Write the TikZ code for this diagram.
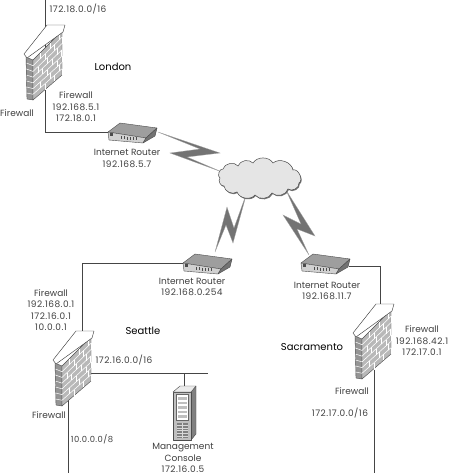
\documentclass[tikz,border=0pt]{standalone}
\usepackage{fontspec}
\setmainfont{Poppins}
\newfontfamily\numf[LetterSpace=5]{Poppins}
\usetikzlibrary{calc}
\definecolor{linec}{gray}{0.27}
\definecolor{txt}{gray}{0.25}
\tikzset{
  x=1pt,y=-1pt,
  wire/.style={draw=linec,line width=0.9pt},
  bolt/.style={fill=black!55,draw=black!35,line width=0.25pt,line join=miter},
  lbl/.style={inner sep=0pt,font=\fontsize{9}{11.5}\selectfont,text=txt},
  site/.style={inner sep=0pt,font=\fontsize{10}{12}\selectfont,text=black},
  brick/.style={draw=white,line width=0.55pt},
  edge/.style={draw=black!70,line width=0.4pt,line join=round},
}
\newcommand{\firewallpic}[3]{% name, dx, dy
  \begin{scope}[shift={(#2,#3)}]
    \coordinate (#1) at (45,60);
    \path[fill=black!42,edge] (26,57) -- (33,60) -- (33,100) -- (27,99) -- cycle;
    \path[fill=black!28,edge] (33,60) -- (62,31) -- (62,75) -- (33,100) -- cycle;
    \foreach \v in {0.143,0.286,0.429,0.571,0.714,0.857}{
      \draw[brick] (33,60+40*\v) -- (62,31+44*\v);
      \draw[draw=white,line width=0.5pt] (26.5,57+42*\v) -- (33,60+40*\v);
    }
    \foreach \i/\a in {0/0.25,1/0.42,2/0.17,3/0.33,4/0.5,5/0.25,6/0.42}{
      \foreach \k in {0,1,2}{
        \pgfmathsetmacro{\u}{\a+\k*0.33}
        \pgfmathsetmacro{\ua}{min(\u,1)}
        \pgfmathsetmacro{\xx}{33+29*\ua}
        \pgfmathsetmacro{\ya}{60-29*\ua+(40+4*\ua)*\i*0.143}
        \pgfmathsetmacro{\yb}{\ya+(40+4*\ua)*0.143}
        \draw[brick] (\xx,\ya) -- (\xx,\yb);
      }
    }
    \path[fill=white,draw=black!75,line width=0.45pt,line join=round] (24,54) -- (47,25) -- (65,25) -- (63,32) -- (27,58) -- cycle;
  \end{scope}
}
\newcommand{\routerpic}[3]{% name, dx, dy
  \begin{scope}[shift={(#2,#3)}]
    \coordinate (#1) at (132,132);
    \path[fill=black!38,edge] (108,132) -- (120,123) -- (157,128) -- (146,138) -- cycle;
    \path[fill=black!18,edge] (108,132) -- (146,138) -- (143,143) -- (109,140) -- cycle;
    \path[fill=black!55,edge] (146,138) -- (157,128) -- (155,136) -- (143,143) -- cycle;
    \path[fill=black!70] (110,133) rectangle (112.5,136);
    \foreach \i in {0,...,5}{ \draw[black!70,line width=0.5pt] (121+\i*3,136+\i*0.25) -- (121+\i*3,139+\i*0.25); }
  \end{scope}
}
\begin{document}
\begin{tikzpicture}
\useasboundingbox (0,0) rectangle (450,475);
\fill[white] (0,0) rectangle (450,475);

% device anchor coordinates
\coordinate (lonTop) at (45,0);
\coordinate (lonCorner) at (45,132);
\coordinate (lonR) at (109,132);
\coordinate (seaR) at (184,263);
\coordinate (seaCorner) at (82.5,263);
\coordinate (seaFw) at (82.5,332);
\coordinate (seaFwB) at (68,395);
\coordinate (seaEnd) at (68,473);
\coordinate (lanL) at (88,373);
\coordinate (lanR) at (208,373);
\coordinate (lanTap) at (184,373);
\coordinate (srv) at (184,388);
\coordinate (sacR) at (349,266);
\coordinate (sacCorner) at (380,266);
\coordinate (sacFw) at (380,306);
\coordinate (sacFwB) at (374,370);
\coordinate (sacEnd) at (374,473);

% wires
\draw[wire] (lonTop) -- (lonCorner) -- (lonR);
\draw[wire] (seaR) -- (seaCorner) -- (seaFw);
\draw[wire] (seaFwB) -- (seaEnd);
\draw[wire] (lanL) -- (lanR);
\draw[wire] (lanTap) -- (srv);
\draw[wire] (sacR) -- (sacCorner) -- (sacFw);
\draw[wire] (sacFwB) -- (sacEnd);

% lightning bolts
\path[bolt] (158,132) -- (220,153) -- (187,157) -- (222,172) -- (170,153) -- (200,149) -- cycle;
\path[bolt] (247,192) -- (233,243) -- (226,225) -- (215,252) -- (227,207) -- (234,228) -- cycle;
\path[bolt] (286,190) -- (315,236) -- (297,229) -- (309,255) -- (283,215) -- (301,224) -- cycle;

% cloud
\def\cloudpath{(223,169) to[bend left=65] (238,166) to[bend left=60] (253,163) to[bend left=60] (273,163) to[bend left=60] (293,170) to[bend left=85] (299,183) to[bend left=70] (288,189) to[bend left=60] (272,193) to[bend left=60] (255,195) to[bend left=60] (237,192) to[bend left=60] (224,186) to[bend left=70] (220,178) to[bend left=80] (223,169) -- cycle}
\path[fill=black!55,shift={(0.8,1)}] \cloudpath;
\path[fill=black!10,draw=black!70,line width=0.5pt] \cloudpath;
\coordinate (cloud) at (260,178);

\firewallpic{fwLondon}{0}{0}
\firewallpic{fwSeattle}{29}{306}
\firewallpic{fwSacramento}{329}{279}
\routerpic{rtLondon}{0}{0}
\routerpic{rtSeattle}{75}{131}
\routerpic{rtSacramento}{193}{131}

% server
\path[fill=black!50,edge] (191,392) -- (196,386) -- (196,434) -- (191,440) -- cycle;
\path[fill=black!25,edge] (173,392) -- (191,392) -- (191,440) -- (173,440) -- cycle;
\path[fill=black!8,edge] (173,392) -- (180,386) -- (196,386) -- (191,392) -- cycle;
\path[fill=white,draw=black!60,line width=0.3pt] (176,394) rectangle (188,420);
\foreach \i in {0,...,4}{ \fill[black!25] (177.5,397+\i*4.6) rectangle (186.5,399.5+\i*4.6); }
\path[fill=black!50] (177,423) rectangle (188,438);
\foreach \i in {0,...,4}{ \draw[black!15,line width=0.4pt] (177,425+\i*2.7) -- (188,425+\i*2.7); }
\draw[black!15,line width=0.6pt] (182.5,423) -- (182.5,438);

% labels
\node[lbl] (t1) at (78,9) {\numf 172.18.0.0/16};
\node[site] (t2) at (113,67) {London};
\node[lbl,align=center] (t3) at (76,107) {Firewall\\\numf 192.168.5.1\\\numf 172.18.0.1};
\node[lbl] (t4) at (17,113) {Firewall};
\node[lbl,align=center] (t5) at (127,158.5) {Internet Router\\\numf 192.168.5.7};
\node[lbl,align=center] (t6) at (192,287) {Internet Router\\\numf 192.168.0.254};
\node[lbl,align=center] (t7) at (51,310) {Firewall\\\numf 192.168.0.1\\\numf 172.16.0.1\\\numf 10.0.0.1};
\node[site] (t8) at (143,331) {Seattle};
\node[lbl] (t9) at (124,360) {\numf 172.16.0.0/16};
\node[lbl] (t10) at (49,415) {Firewall};
\node[lbl,font=\fontsize{8.4}{11}\selectfont] (t11) at (92,439) {\numf 10.0.0.0/8};
\node[lbl,align=center] (t12) at (183,458) {Management\\Console\\\numf 172.16.0.5};
\node[lbl,align=center] (t13) at (327,291) {Internet Router\\\numf 192.168.11.7};
\node[lbl,align=center] (t14) at (422,341) {Firewall\\\numf 192.168.42.1\\\numf 172.17.0.1};
\node[site] (t15) at (312,347) {Sacramento};
\node[lbl] (t16) at (352,391) {Firewall};
\node[lbl] (t17) at (340,413) {\numf 172.17.0.0/16};
\end{tikzpicture}
\end{document}
